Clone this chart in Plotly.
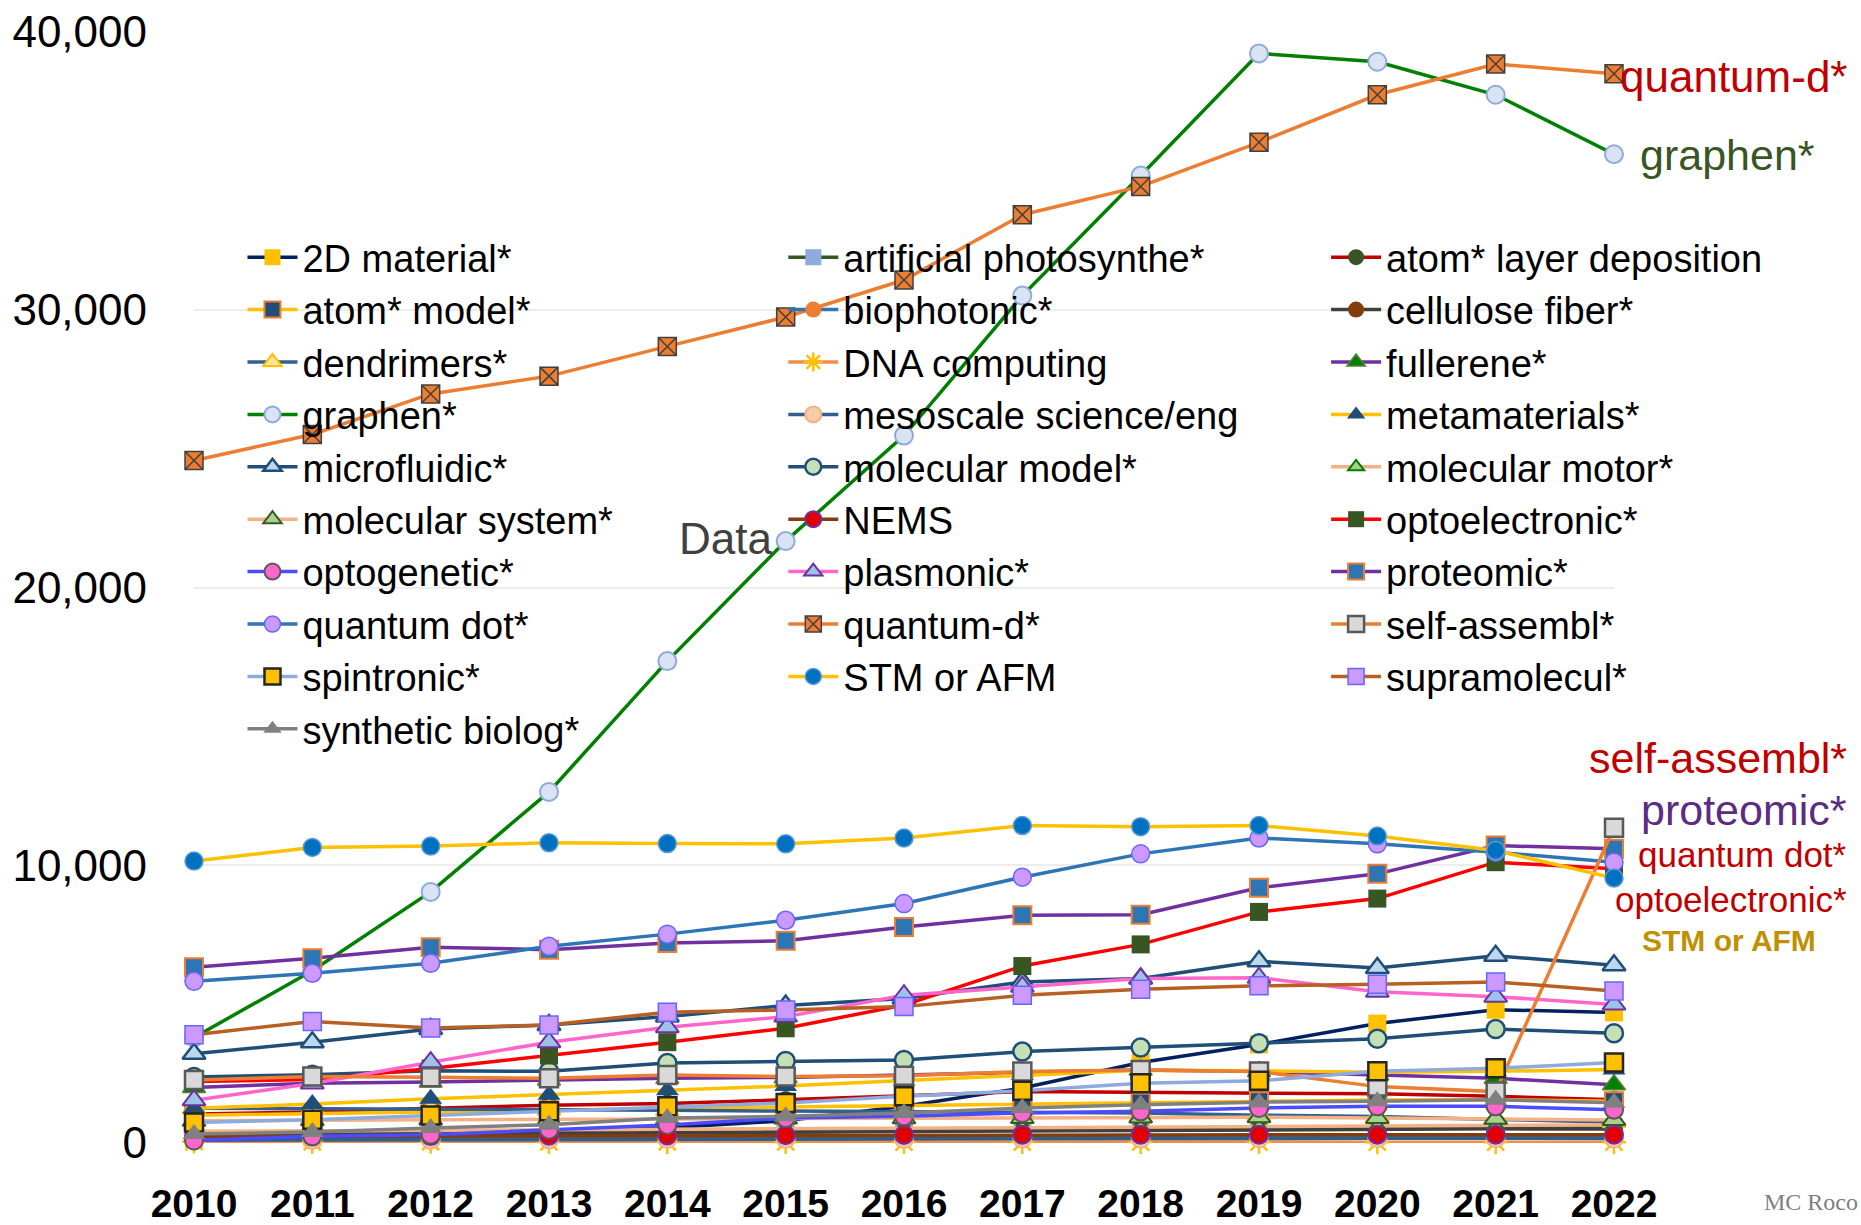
import plotly.graph_objects as go

years = list(range(2010, 2023))

names = [
    "2D material*", "artificial photosynthe*", "atom* layer deposition",
    "atom* model*", "biophotonic*", "cellulose fiber*",
    "dendrimers*", "DNA computing", "fullerene*",
    "graphen*", "mesoscale science/eng", "metamaterials*",
    "microfluidic*", "molecular model*", "molecular motor*",
    "molecular system*", "NEMS", "optoelectronic*",
    "optogenetic*", "plasmonic*", "proteomic*",
    "quantum dot*", "quantum-d*", "self-assembl*",
    "spintronic*", "STM or AFM", "supramolecul*",
    "synthetic biolog*",
]

v_2d_material = [150, 200, 300, 400, 550, 800, 1320, 1980, 2900, 3550, 4300, 4800, 4700]
v_artificial_photosynthe = [250, 280, 310, 340, 370, 400, 430, 480, 520, 540, 560, 560, 560]
v_atom_layer_deposition = [1040, 1120, 1250, 1360, 1420, 1550, 1700, 1850, 1820, 1800, 1770, 1680, 1560]
v_atom_model = [1000, 1050, 1100, 1180, 1250, 1300, 1350, 1400, 1450, 1500, 1550, 1560, 1500]
v_biophotonic = [150, 160, 170, 170, 180, 180, 190, 190, 200, 200, 200, 200, 200]
v_cellulose_fiber = [300, 310, 330, 350, 370, 390, 410, 440, 470, 500, 510, 510, 500]
v_dendrimers = [1250, 1240, 1230, 1200, 1180, 1150, 1130, 1100, 1080, 1000, 950, 850, 750]
v_dna_computing = [50, 45, 45, 40, 40, 40, 35, 35, 35, 35, 30, 30, 30]
v_fullerene = [2000, 2150, 2200, 2270, 2330, 2360, 2450, 2570, 2630, 2570, 2450, 2330, 2100]
v_graphen = [3800, 6200, 9040, 12640, 17350, 21670, 25470, 30510, 34830, 39230, 38930, 37740, 35600]
v_mesoscale = [100, 110, 120, 130, 140, 150, 150, 160, 160, 170, 170, 170, 160]
v_metamaterials = [1250, 1400, 1590, 1740, 1900, 2050, 2250, 2450, 2620, 2600, 2550, 2580, 2650]
v_microfluidic = [3210, 3630, 4100, 4250, 4550, 4950, 5200, 5800, 5920, 6540, 6300, 6740, 6400]
v_molecular_model = [2380, 2460, 2600, 2580, 2880, 2950, 2990, 3290, 3440, 3590, 3750, 4100, 3950]
v_molecular_motor = [420, 440, 460, 480, 500, 520, 540, 560, 580, 600, 620, 640, 650]
v_molecular_system = [800, 820, 850, 860, 870, 880, 890, 900, 920, 930, 900, 870, 830]
v_nems = [230, 240, 250, 260, 270, 280, 290, 300, 300, 300, 300, 300, 300]
v_optoelectronic = [2210, 2290, 2680, 3150, 3630, 4130, 4970, 6370, 7150, 8320, 8800, 10110, 9870]
v_optogenetic = [90, 240, 300, 480, 650, 900, 960, 1080, 1140, 1260, 1320, 1320, 1200]
v_plasmonic = [1540, 2140, 2910, 3630, 4170, 4550, 5320, 5630, 5920, 5950, 5450, 5270, 4990]
v_proteomic = [6330, 6650, 7050, 6960, 7200, 7280, 7780, 8200, 8220, 9190, 9690, 10710, 10590]
v_quantum_dot = [5820, 6110, 6470, 7080, 7520, 8020, 8620, 9570, 10410, 10980, 10770, 10470, 10110]
v_quantum_d = [24570, 25510, 26970, 27610, 28680, 29740, 31070, 33420, 34440, 36030, 37740, 38850, 38500]
v_self_assembl = [2270, 2390, 2370, 2330, 2450, 2390, 2420, 2570, 2630, 2570, 2030, 1850, 11350]
v_spintronic = [740, 840, 990, 1140, 1320, 1440, 1680, 1880, 2150, 2240, 2580, 2690, 2900]
v_stm_afm = [10150, 10640, 10690, 10810, 10780, 10770, 10980, 11430, 11390, 11430, 11050, 10530, 9540]
v_supramolecul = [3900, 4370, 4140, 4250, 4710, 4790, 4910, 5320, 5540, 5660, 5720, 5800, 5470]
v_synthetic_biolog = [320, 400, 540, 660, 900, 960, 1080, 1260, 1380, 1470, 1500, 1560, 1450]

values = [
    v_2d_material, v_artificial_photosynthe, v_atom_layer_deposition,
    v_atom_model, v_biophotonic, v_cellulose_fiber,
    v_dendrimers, v_dna_computing, v_fullerene,
    v_graphen, v_mesoscale, v_metamaterials,
    v_microfluidic, v_molecular_model, v_molecular_motor,
    v_molecular_system, v_nems, v_optoelectronic,
    v_optogenetic, v_plasmonic, v_proteomic,
    v_quantum_dot, v_quantum_d, v_self_assembl,
    v_spintronic, v_stm_afm, v_supramolecul,
    v_synthetic_biolog,
]

y_tick_vals = [0, 10000, 20000, 30000, 40000]
y_tick_text = ["0", "10,000", "20,000", "30,000", "40,000"]

# (line colour, symbol, fill, outline, outline width, size)
styles = [
    ("#002060", "square", "#FFC000", "#FFC000", 0, 18),
    ("#375623", "square", "#8FAADC", "#8FAADC", 0, 18),
    ("#C00000", "circle", "#375623", "#375623", 0, 18),
    ("#FFC000", "square", "#1F4E79", "#ED7D31", 2, 18),
    ("#2E75B6", "circle", "#ED7D31", "#ED7D31", 0, 18),
    ("#404040", "circle", "#843C0C", "#843C0C", 0, 18),
    ("#335F91", "triangle-up", "#FFE699", "#FFC000", 2, 20),
    ("#F08D4B", "asterisk-open", "#FFC000", "#FFC000", 2.5, 20),
    ("#7030A0", "triangle-up", "#008000", "#548235", 1.5, 20),
    ("#008000", "circle", "#DAE3F3", "#8FAADC", 2, 18),
    ("#2F5F8A", "circle", "#F8CBAD", "#F4B183", 2, 18),
    ("#FFC000", "triangle-up", "#1F4E79", "#1F4E79", 0, 20),
    ("#1F4E79", "triangle-up", "#BDD7EE", "#1F4E79", 2.5, 20),
    ("#1F4E79", "circle", "#C5E0B4", "#1F4E79", 2.5, 18),
    ("#F4B183", "triangle-up", "#A9D18E", "#008000", 2, 14),
    ("#F4B183", "triangle-up", "#A9D18E", "#385723", 2, 20),
    ("#843C0C", "circle", "#E00000", "#7030A0", 2, 18),
    ("#FF0000", "square", "#375623", "#375623", 0, 18),
    ("#4B4BFF", "circle", "#FF66CC", "#595959", 2, 18),
    ("#FF66CC", "triangle-up", "#9DC3E6", "#7030A0", 2, 20),
    ("#7030A0", "square", "#2E75B6", "#ED7D31", 2, 18),
    ("#2E75B6", "circle", "#CC99FF", "#6666FF", 1.5, 18),
    ("#ED7D31", "square-x", "#ED7D31", "#404040", 1.5, 18),
    ("#ED7D31", "square", "#D9D9D9", "#595959", 2.5, 18),
    ("#8FAADC", "square", "#FFC000", "#262626", 2.5, 18),
    ("#FFC000", "circle", "#0070C0", "#5B9BD5", 1.5, 18),
    ("#B85F22", "square", "#CC99FF", "#6666FF", 1.5, 18),
    ("#808080", "triangle-up", "#808080", "#808080", 0, 20),
]

FONT = "Liberation Sans, Arial, sans-serif"

fig = go.Figure()
legend_ids = ["legend", "legend2", "legend3"]
for i, (name, vals, st) in enumerate(zip(names, values, styles)):
    lc, sym, fill, oc, ow, sz = st
    fig.add_trace(go.Scatter(
        x=years, y=vals, name=name, mode="lines+markers",
        line=dict(color=lc, width=3.5),
        marker=dict(symbol=sym, color=fill, size=sz,
                    line=dict(color=oc, width=ow)),
        cliponaxis=False,
        legend=legend_ids[i % 3],
    ))

L, R, T, B = 193.5, 1614, 32, 1143
PW, PH = R - L, B - T

def px_x(p):
    return (p - L) / PW

def px_y(p):
    return (B - p) / PH

leg_common = dict(
    bgcolor="rgba(0,0,0,0)", borderwidth=0,
    font=dict(family=FONT, size=38, color="#000000"),
    itemwidth=50, tracegroupgap=0,
    xanchor="left", yanchor="top", orientation="v",
    traceorder="normal",
)
leg_y = px_y(226)

def side_label(text, px, py, anchor, size, color):
    return dict(text=text, xref="paper", yref="paper", x=px_x(px), y=px_y(py),
                xanchor=anchor, yanchor="middle", showarrow=False,
                borderpad=0,
                font=dict(family=FONT, size=size, color=color))

annotations = [
    side_label("quantum-d*", 1848, 76, "right", 44, "#C00000"),
    side_label("graphen*", 1639, 155, "left", 43, "#375623"),
    side_label("self-assembl*", 1848, 758, "right", 43, "#C00000"),
    side_label("proteomic*", 1848, 810, "right", 43, "#5B2C83"),
    side_label("quantum dot*", 1848, 854, "right", 35, "#C00000"),
    side_label("optoelectronic*", 1848, 899, "right", 35, "#C00000"),
    side_label("<b>STM or AFM</b>", 1729.5, 941, "center", 30, "#BF9000"),
    dict(text="Data", xref="x", yref="y", x=2014.49, y=21750,
         xanchor="center", yanchor="middle", showarrow=False,
         font=dict(family=FONT, size=44, color="#404040")),
    dict(text="MC Roco", xref="paper", yref="paper", x=px_x(1762), y=px_y(1202),
         xanchor="left", yanchor="middle", showarrow=False,
         font=dict(family="Liberation Serif, Times New Roman, serif", size=24, color="#7F7F7F")),
]

fig.update_layout(
    width=1861, height=1225,
    margin=dict(l=L, r=1861 - R, t=T, b=1225 - B, pad=0),
    paper_bgcolor="white", plot_bgcolor="white",
    font=dict(family=FONT, color="#000000"),
    showlegend=True,
    legend=dict(x=px_x(242), y=leg_y, **leg_common),
    legend2=dict(x=px_x(783), y=leg_y, **leg_common),
    legend3=dict(x=px_x(1326), y=leg_y, **leg_common),
    annotations=annotations,
    xaxis=dict(
        range=[2010, 2022], tickmode="array", tickvals=years,
        ticktext=[f"<b>{y}</b>" for y in years],
        showgrid=False, zeroline=False, showline=False, ticks="",
        tickfont=dict(family=FONT, size=39, color="#000000"),
        tickangle=0, automargin=False,
        ticklabelstandoff=34,
    ),
    yaxis=dict(
        range=[0, 40000], tickmode="array", tickvals=y_tick_vals,
        ticktext=y_tick_text,
        showgrid=True, gridcolor="#EDEDED", gridwidth=2,
        zeroline=False, showline=False, ticks="",
        tickfont=dict(family=FONT, size=44, color="#000000"),
        automargin=False,
        ticklabelstandoff=46,
    ),
)

fig.write_html("out.html")
